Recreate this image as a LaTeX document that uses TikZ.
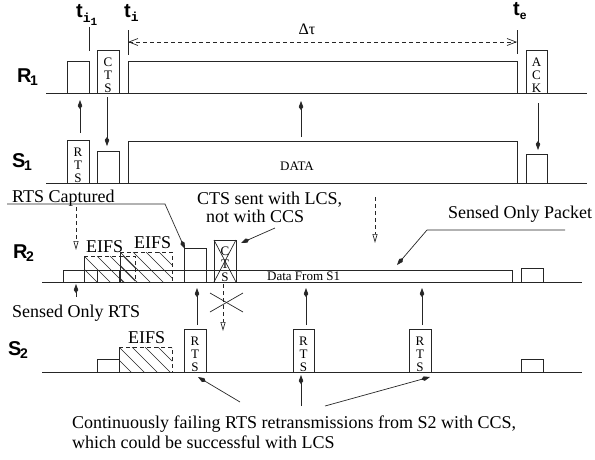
\documentclass[tikz,border=0pt]{standalone}
\usepackage{fontspec}
\setmainfont{Liberation Serif}
\newfontfamily\lsans{Liberation Sans}
\newfontfamily\lmono{Liberation Mono}
\usetikzlibrary{arrows.meta}
\tikzset{
  ln/.style={line width=0.7pt, draw=black!85},
  arr/.style={ln,-{Kite[length=9pt,width=4.5pt,inset=3pt]}},
  darr/.style={ln,dash pattern=on 4pt off 3pt,-{Triangle[open,length=9pt,width=5pt]}},
  hatchln/.style={line width=0.6pt, draw=black!85},
  txt/.style={inner sep=0pt, font=\fontsize{18}{20}\selectfont},
  smalltxt/.style={inner sep=0pt, font=\fontsize{13}{13}\selectfont},
  vert/.style={inner sep=0pt, align=center, font=\fontsize{13}{13}\selectfont},
  lbl/.style={inner sep=0pt, font=\lsans\bfseries\fontsize{20}{20}\selectfont},
}
\newcommand\hatchrect[4]{%
  \begin{scope}
    \clip (#1,#2) rectangle (#3,#4);
    \foreach \k in {-78,-65,...,80} \draw[hatchln] ({#1+\k},#2) -- ++(60,60);
  \end{scope}
  \draw[ln, dash pattern=on 4pt off 3pt] (#1,#2) -- (#3,#2) -- (#3,#4);
  \draw[ln] (#1,#2) -- (#1,#4);}
\newcommand\subsf[1]{\kern-1.5pt\raisebox{-3.5pt}{\lsans\bfseries\fontsize{14}{14}\selectfont #1}}
\begin{document}
\begin{tikzpicture}[x=1pt,y=-1pt]
\useasboundingbox (0,0) rectangle (595,459);

% ---------- time labels ----------
\node[lbl, anchor=base west] (ti1) at (76,17) {t\raisebox{-5pt}{\lmono\bfseries\fontsize{13}{13}\selectfont i\raisebox{-3pt}{\fontsize{11}{11}\selectfont 1}}};
\node[lbl, anchor=base west] (ti) at (124,17) {t\raisebox{-4pt}{\lmono\bfseries\fontsize{13}{13}\selectfont i}};
\node[lbl, anchor=base west] (te) at (513,15) {t\raisebox{-4pt}{\lsans\bfseries\fontsize{12}{12}\selectfont e}};
\draw[ln] (89,27) -- (89,51);
\draw[ln] (128,30) -- (128,55);
\draw[ln] (517,30) -- (517,54);
\coordinate (dl) at (128,42);
\coordinate (dr) at (517,42);
\draw[ln, dash pattern=on 4pt off 3pt, {Straight Barb[length=9pt,width=7pt]}-{Straight Barb[length=9pt,width=7pt]}] (dl) -- (dr);
\node[inner sep=0pt, anchor=base, font=\fontsize{16}{16}\selectfont] (dtau) at (307,34) {Δτ};

% ---------- row labels ----------
\node[lbl, anchor=base west] (R1) at (17,82) {R\subsf{1}};
\node[lbl, anchor=base west] (S1) at (12,167) {S\subsf{1}};
\node[lbl, anchor=base west] (R2) at (13,258) {R\subsf{2}};
\node[lbl, anchor=base west] (S2) at (8,355) {S\subsf{2}};

% ---------- R1 ----------
\draw[ln] (46,93) -- (587,93);
\draw[ln] (67,93) rectangle (89,61);
\draw[ln] (97,93) rectangle (119,50);
\node[vert, anchor=base] (cts1) at (108,92.5) {C\\T\\S};
\draw[ln] (128,93) rectangle (517,61);
\draw[ln] (526,93) rectangle (547,50);
\node[vert, anchor=base] (ack) at (536.5,92.5) {A\\C\\K};

% ---------- S1 ----------
\draw[ln] (46,183) -- (587,183);
\draw[ln] (67,183) rectangle (89,140);
\node[vert, anchor=base] (rts1) at (78,182.5) {R\\T\\S};
\draw[ln] (97,183) rectangle (119,151);
\draw[ln] (128,183) rectangle (517,141);
\node[smalltxt, anchor=base] (data) at (297,170) {DATA};
\draw[ln] (526,183) rectangle (547,154);

% R1 <-> S1 arrows
\draw[arr] (80,133) -- (80,100);
\draw[arr] (107,97) -- (107,146);
\draw[arr] (301,137) -- (301,101);
\draw[arr] (538,103) -- (538,150);

% ---------- R2 ----------
\draw[ln] (42,282) -- (582,282);
\draw[ln] (63,282) -- (63,270) -- (512,270) -- (512,282);
\draw[ln] (84,282) -- (84,270);
\draw[ln] (97,282) -- (97,270);
\draw[ln] (119,282) -- (119,270);
\hatchrect{84}{256}{135}{282}
\hatchrect{120}{252}{172}{282}
\node[txt, anchor=base west] (eifs1) at (86,252) {EIFS};
\node[txt, anchor=base west] (eifs2) at (134,248) {EIFS};
\draw[ln] (184,282) rectangle (206,248);
\draw[ln] (214,282) rectangle (236,240);
\node[vert, anchor=base] (cts2) at (225,281.5) {C\\T\\S};
\draw[ln] (214,240) -- (236,282);
\draw[ln] (236,240) -- (214,282);
\node[smalltxt, anchor=base west] (dfs) at (267,280) {Data From S1};
\draw[ln] (521,282) rectangle (543,268);

% annotations R2
\node[txt, anchor=base west] (rtscap) at (12,202) {RTS Captured};
\draw[ln, -{Kite[length=9pt,width=4.5pt,inset=3pt]}] (7,204) -- (165,204) -- (185,249);
\draw[darr] (76,207) -- (76,250);
\node[inner sep=0pt, align=left, font=\fontsize{18}{18}\selectfont, anchor=base west] (ctssent) at (197,222) {CTS sent with LCS,\\\hspace*{9pt}not with CCS};
\draw[arr] (275,228) -- (241,243);
\draw[darr] (375,197) -- (375,243);
\node[txt, anchor=base west] (sop) at (448,218) {Sensed Only Packet};
\draw[ln, -{Kite[length=9pt,width=4.5pt,inset=3pt]}] (565,230) -- (427,230) -- (397,265);
\draw[arr] (76,297) -- (76,284);
\node[txt, anchor=base west] (sort) at (12,317) {Sensed Only RTS};
\draw[darr] (223,284) -- (223,331);
\draw[ln] (210,293) -- (243,312);
\draw[ln] (210,312) -- (243,293);

% ---------- S2 ----------
\draw[ln] (42,372) -- (582,372);
\draw[ln] (97,372) rectangle (119,359);
\hatchrect{119}{347}{172}{372}
\node[txt, anchor=base west] (eifs3) at (128,343) {EIFS};
\draw[ln] (184,372) rectangle (206,329);
\node[vert, anchor=base] (rtsa) at (195,371.5) {R\\T\\S};
\draw[ln] (293,372) rectangle (314,329);
\node[vert, anchor=base] (rtsb) at (303.5,371.5) {R\\T\\S};
\draw[ln] (409,372) rectangle (431,329);
\node[vert, anchor=base] (rtsc) at (420,371.5) {R\\T\\S};
\draw[ln] (521,372) rectangle (543,359);

% S2 -> R2 arrows
\draw[arr] (197,325) -- (197,288);
\draw[arr] (306,325) -- (306,288);
\draw[arr] (422,325) -- (422,288);

% bottom note
\node[txt, anchor=base west] (note1) at (72,428) {Continuously failing RTS retransmissions from S2 with CCS,};
\node[txt, anchor=base west] (note2) at (72,448) {which could be successful with LCS};
\draw[arr] (240,402) -- (198,377);
\draw[arr] (301,406) -- (301,375);
\draw[arr] (325,406) -- (430,377);
\end{tikzpicture}
\end{document}
